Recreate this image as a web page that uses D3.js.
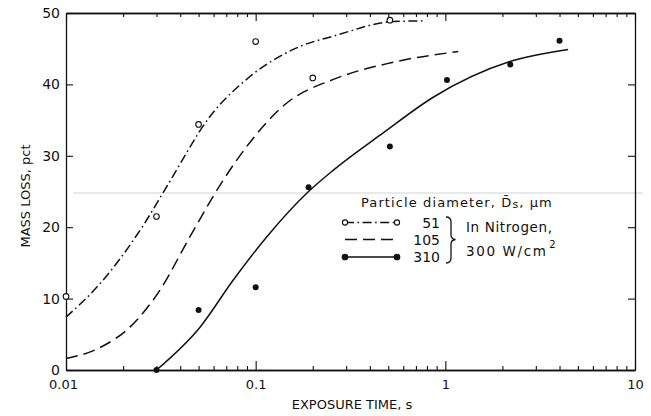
<!DOCTYPE html>
<html><head><meta charset="utf-8">
<script src="https://cdn.jsdelivr.net/npm/d3@7"></script>
<style>
html,body{margin:0;padding:0;background:#fff;}
svg{display:block;}
text{font-family:"DejaVu Sans","Liberation Sans",sans-serif;fill:#111;}
</style></head>
<body>
<svg id="chart" width="651" height="416"></svg>
<script>
// ---- data ----
const xTickValues = [0.01, 0.1, 1, 10];
const xTickLabels = ["0.01", "0.1", "1", "10"];
const yTickValues = [0, 10, 20, 30, 40, 50];
const yTickLabels = ["0", "10", "20", "30", "40", "50"];

// measured points
const p51Time  = [0.01, 0.03, 0.05, 0.1, 0.2, 0.51];
const p51Loss  = [10.3, 21.5, 34.4, 46.0, 40.9, 49.0];
const p310Time = [0.03, 0.05, 0.1, 0.19, 0.51, 1.02, 2.2, 4.0];
const p310Loss = [0, 8.4, 11.6, 25.6, 31.3, 40.6, 42.8, 46.1];

// fitted curves
const c51Time  = [0.01, 0.015, 0.0193, 0.0256, 0.034, 0.0574, 0.0933, 0.171, 0.26, 0.53, 0.76];
const c51Loss  = [7.4, 12.0, 15.6, 20.3, 25.7, 35.5, 41.1, 45.3, 46.8, 48.8, 48.9];
const c105Time = [0.01, 0.015, 0.0217, 0.0313, 0.0451, 0.0675, 0.0897, 0.146, 0.257, 0.51, 1.17];
const c105Loss = [1.6, 3.1, 6.0, 11.2, 18.7, 26.6, 31.3, 37.4, 40.7, 43.0, 44.6];
const c310Time = [0.03, 0.0509, 0.0762, 0.114, 0.19, 0.257, 0.47, 0.863, 2.19, 4.44];
const c310Loss = [0, 6.0, 12.6, 18.6, 25.0, 28.0, 33.2, 38.2, 43.2, 44.9];

const legendSizes = ["51", "105", "310"];

// ---- layout ----
const svg = d3.select("#chart");
const L = 66, R = 635, T = 13, B = 370;
const x = d3.scaleLog().domain([0.01, 10]).range([L, R]);
const y = d3.scaleLinear().domain([0, 50]).range([B, T]);
const ink = "#111";

// faint scan line artifact
svg.append("line").attr("x1", 73).attr("x2", 643).attr("y1", 193).attr("y2", 193)
  .attr("stroke", "#d4d4d4").attr("stroke-width", 1.2);

// minor ticks
const minor = [];
for (let d = 0.01; d < 10; d *= 10) for (let k = 2; k <= 9; k++) minor.push(+(d * k).toPrecision(3));

function styleAxis(fs) {
  return g => {
    g.selectAll("path").attr("stroke", ink).attr("stroke-width", 1.3);
    g.selectAll("line").attr("stroke", ink).attr("stroke-width", 1.1);
    g.selectAll("text").attr("font-size", fs).attr("fill", ink)
      .attr("font-family", '"DejaVu Sans","Liberation Sans",sans-serif');
  };
}

// bottom
svg.append("g").attr("transform", `translate(0,${B})`)
  .call(d3.axisBottom(x).tickValues(xTickValues).tickSizeInner(-9).tickSizeOuter(0)
    .tickPadding(10).tickFormat((d, i) => xTickLabels[i]))
  .call(styleAxis(13))
  .selectAll("text").attr("dx", (d, i) => i === 0 ? -3 : 0);
svg.append("g").attr("transform", `translate(0,${B})`)
  .call(d3.axisBottom(x).tickValues(minor).tickSizeInner(-4).tickSizeOuter(0).tickFormat(""))
  .call(styleAxis(13));
// top
svg.append("g").attr("transform", `translate(0,${T})`)
  .call(d3.axisTop(x).tickValues(xTickValues).tickSizeInner(-8).tickSizeOuter(0).tickFormat(""))
  .call(styleAxis(13));
svg.append("g").attr("transform", `translate(0,${T})`)
  .call(d3.axisTop(x).tickValues(minor).tickSizeInner(-4).tickSizeOuter(0).tickFormat(""))
  .call(styleAxis(13));
// left
svg.append("g").attr("transform", `translate(${L},0)`)
  .call(d3.axisLeft(y).tickValues(yTickValues).tickSizeInner(-7).tickSizeOuter(0)
    .tickPadding(6).tickFormat((d, i) => yTickLabels[i]))
  .call(styleAxis(14));
// right
svg.append("g").attr("transform", `translate(${R},0)`)
  .call(d3.axisRight(y).tickValues(yTickValues).tickSizeInner(-7).tickSizeOuter(0).tickFormat(""))
  .call(styleAxis(13));

// axis titles
svg.append("text").attr("x", 352).attr("y", 409).attr("text-anchor", "middle")
  .attr("font-size", 13).text("EXPOSURE TIME, s");
svg.append("text").attr("transform", "translate(30,196) rotate(-90)").attr("text-anchor", "middle")
  .attr("font-size", 13).text("MASS LOSS, pct");

// curves
const line = d3.line().x(d => x(d[0])).y(d => y(d[1])).curve(d3.curveMonotoneX);
const zip = (a, b) => a.map((v, i) => [v, b[i]]);
const dashDot = "9,3.5,1.6,3.5";
const dashed = "12,6";

svg.append("path").datum(zip(c51Time, c51Loss)).attr("d", line)
  .attr("fill", "none").attr("stroke", ink).attr("stroke-width", 1.5).attr("stroke-dasharray", dashDot);
svg.append("path").datum(zip(c105Time, c105Loss)).attr("d", line)
  .attr("fill", "none").attr("stroke", ink).attr("stroke-width", 1.5).attr("stroke-dasharray", dashed);
svg.append("path").datum(zip(c310Time, c310Loss)).attr("d", line)
  .attr("fill", "none").attr("stroke", ink).attr("stroke-width", 1.5);

// points
svg.append("g").selectAll("circle").data(zip(p51Time, p51Loss)).join("circle")
  .attr("cx", d => x(d[0])).attr("cy", d => y(d[1])).attr("r", 2.8)
  .attr("fill", "#fff").attr("stroke", ink).attr("stroke-width", 1.1);
svg.append("g").selectAll("circle").data(zip(p310Time, p310Loss)).join("circle")
  .attr("cx", d => x(d[0])).attr("cy", d => y(d[1])).attr("r", 3)
  .attr("fill", ink);

// legend
const lg = svg.append("g");
const head = lg.append("text").attr("x", 361).attr("y", 206.5).attr("font-size", 13)
  .attr("letter-spacing", 1.1);
head.append("tspan").text("Particle diameter,  D\u0304");
head.append("tspan").attr("font-size", 11).attr("dy", 1.5).text("s");
head.append("tspan").attr("dy", -1.5).text(", \u03BCm");
const rows = [
  {y: 222.5, dash: dashDot, marker: "open"},
  {y: 239.5, dash: dashed, marker: null},
  {y: 257, dash: null, marker: "filled"}
];
rows.forEach((r, i) => {
  lg.append("line").attr("x1", 345).attr("x2", 397).attr("y1", r.y).attr("y2", r.y)
    .attr("stroke", ink).attr("stroke-width", 1.5).attr("stroke-dasharray", r.dash);
  if (r.marker) {
    [345, 397].forEach(cx => lg.append("circle").attr("cx", cx).attr("cy", r.y)
      .attr("r", r.marker === "open" ? 2.6 : 2.8)
      .attr("fill", r.marker === "open" ? "#fff" : ink)
      .attr("stroke", ink).attr("stroke-width", 1.1));
  }
  lg.append("text").attr("x", 440).attr("y", r.y + 5).attr("text-anchor", "end")
    .attr("font-size", 14).text(legendSizes[i]);
});
// brace
lg.append("path")
  .attr("d", "M446,217 Q451,217 451,222 L451,235 Q451,239 455.5,239.5 Q451,240 451,244 L451,258 Q451,263 446,263")
  .attr("fill", "none").attr("stroke", ink).attr("stroke-width", 1.3);
lg.append("text").attr("x", 466).attr("y", 232).attr("font-size", 13.5)
  .attr("textLength", 86).attr("lengthAdjust", "spacing").text("In Nitrogen,");
const t300 = lg.append("text").attr("x", 466).attr("y", 256).attr("font-size", 13.5);
t300.append("tspan").attr("textLength", 80).attr("lengthAdjust", "spacing").text("300 W/cm");
t300.append("tspan").attr("dy", -8).attr("dx", 1.5).attr("font-size", 10).text("2");
</script>
</body></html>
